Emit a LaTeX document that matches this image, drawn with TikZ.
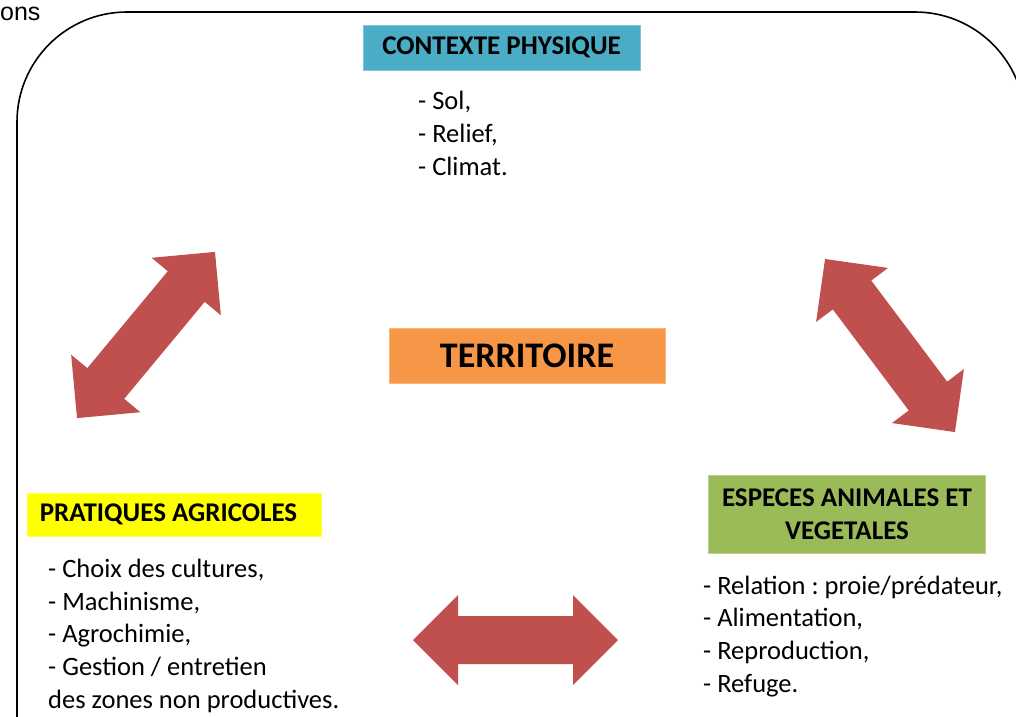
\documentclass[tikz,border=0pt]{standalone}
\usepackage{fontspec}
\setmainfont{Carlito}
\newfontfamily\arialfont{Liberation Sans}
\frenchspacing
\definecolor{aquaC}{HTML}{4BACC6}
\definecolor{orangeC}{HTML}{F79646}
\definecolor{yellowC}{HTML}{FFFF00}
\definecolor{greenC}{HTML}{9BBB59}
\definecolor{arrowred}{HTML}{C0504D}
\newcommand\dblarr[4]{%
  \begin{scope}[shift={(#1,#2)}, rotate=#3]
    \fill[arrowred] ({#4},0) -- ({#4-45},45) -- ({#4-45},24) -- ({-#4+45},24) -- ({-#4+45},45)
      -- ({-#4},0) -- ({-#4+45},-45) -- ({-#4+45},-24) -- ({#4-45},-24) -- ({#4-45},-45) -- cycle;
  \end{scope}}
\begin{document}
\begin{tikzpicture}[x=1pt,y=-1pt,
  frame/.style={draw=black, line width=1.6pt, rounded corners=110pt},
  hdrbox/.style={fill=#1, draw=#1!70!white, line width=0.8pt, inner sep=0pt,
    font=\fontsize{27}{33}\selectfont\bfseries, text=black},
  listtxt/.style={anchor=base west, align=left, inner sep=0pt,
    font=\fontsize{26.5}{32.6}\selectfont, text=black}]
  \useasboundingbox (0,0) rectangle (1016,716);
  \clip (0,0) rectangle (1016,716);
  \node[anchor=base west, inner sep=0pt, font=\arialfont\fontsize{25}{28}\selectfont] (ons) at (0,20) {ons};
  \draw[frame] (17,12) rectangle (1025,830);
  \node[hdrbox=aquaC, minimum width=277pt, minimum height=45pt] (phys) at (501.5,47.5) {CONTEXTE PHYSIQUE};
  \node[hdrbox=orangeC, minimum width=276pt, minimum height=55pt, font=\fontsize{36}{40}\selectfont\bfseries] (terr) at (527,355.5) {TERRITOIRE};
  \node[hdrbox=yellowC, minimum width=294pt, minimum height=43pt] (prat) at (174,514.5) {PRATIQUES AGRICOLES\hspace*{11pt}};
  \node[hdrbox=greenC, minimum width=277pt, minimum height=78pt, align=center] (esp) at (847,514.5) {ESPECES ANIMALES ET\\VEGETALES};
  \node[listtxt] (physl) at (418,175) {- Sol,\\- Relief,\\- Climat.};
  \node[listtxt] (pratl) at (48,708) {- Choix des cultures,\\- Machinisme,\\- Agrochimie,\\- Gestion / entretien\\des zones non productives.};
  \node[listtxt] (espl) at (703,692) {- Relation : proie/prédateur,\\- Alimentation,\\- Reproduction,\\- Refuge.};
  \coordinate (arrL) at (146,335);
  \coordinate (arrR) at (890,345.5);
  \coordinate (arrB) at (515.5,640);
  \dblarr{146}{335}{50.3}{108}
  \dblarr{890}{345.5}{-53.1}{108.2}
  \dblarr{515.5}{640}{0}{102.5}
\end{tikzpicture}
\end{document}
